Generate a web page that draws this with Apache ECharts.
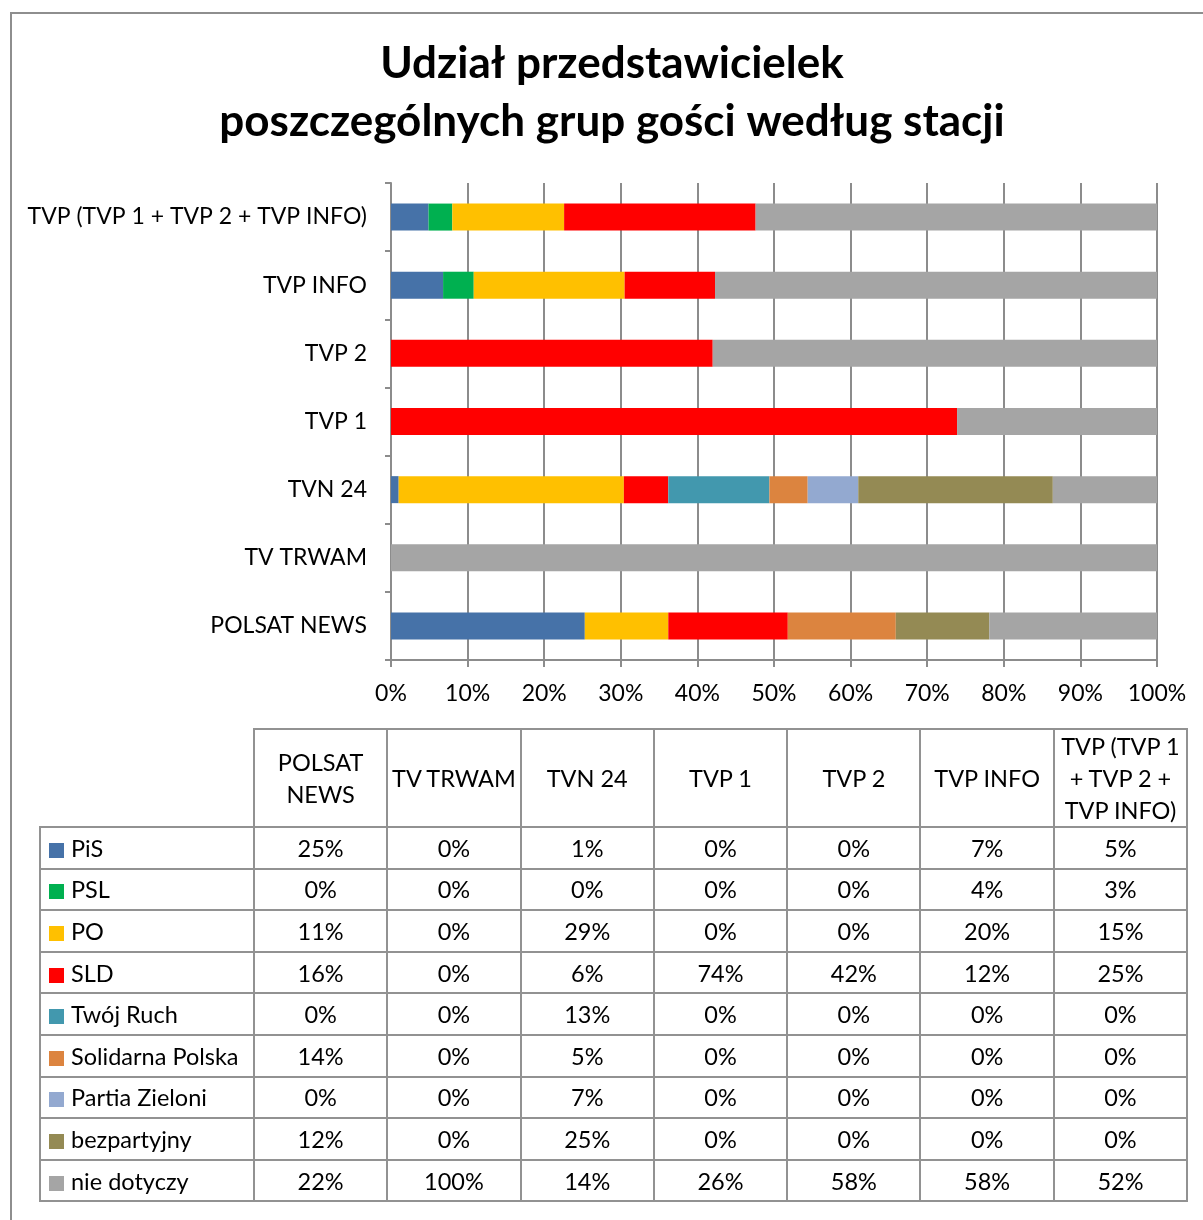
<!DOCTYPE html>
<html>
<head>
<meta charset="utf-8">
<script src="https://cdn.jsdelivr.net/npm/echarts@6/dist/echarts.min.js"></script>
<style>
    body { margin:0; background:#fff; font-family: Lato, sans-serif; }
    #frame { position:absolute; left:10px; top:12px; width:1200px; height:1220px; border-left:2px solid #8e8e8e; border-top:2px solid #8e8e8e; }
    #chart { position:absolute; left:0; top:0; width:1203px; height:1220px; }
    #tbl { position:absolute; left:39px; top:728px; width:1147px; table-layout:fixed; border-collapse:collapse; font-family:Lato, sans-serif; font-size:23.5px; color:#000; }
    #tbl td { border:2px solid #929292; text-align:center; padding:0; height:39.6px; white-space:nowrap; overflow:visible; }
    #tbl tr.head td { height:95px; line-height:32px; }
    #tbl td.blank { border:none; }
    #tbl td.lab { text-align:left; padding-left:8px; }
    #tbl .sw { display:inline-block; width:15px; height:15px; margin-right:7px; vertical-align:-1px; }
</style>
</head>
<body>
<div id="frame"></div>
<div id="chart"></div>
<table id="tbl"></table>

<script>
    // stacje (od dołu wykresu)
    var stations = ['POLSAT NEWS', 'TV TRWAM', 'TVN 24', 'TVP 1', 'TVP 2', 'TVP INFO', 'TVP (TVP 1 + TVP 2 + TVP INFO)'];
    var stationHead = ['POLSAT<br>NEWS', 'TV TRWAM', 'TVN 24', 'TVP 1', 'TVP 2', 'TVP INFO', 'TVP (TVP 1<br>+ TVP 2 +<br>TVP INFO)'];
    var groups = ['PiS', 'PSL', 'PO', 'SLD', 'Twój Ruch', 'Solidarna Polska', 'Partia Zieloni', 'bezpartyjny', 'nie dotyczy'];
    var colors = ['#4672a8', '#00b050', '#ffc000', '#ff0000', '#4298ae', '#dc843f', '#93a9d0', '#948a54', '#a5a5a5'];
    var xTicks = [0, 10, 20, 30, 40, 50, 60, 70, 80, 90, 100];

    // udział w % dla każdej stacji (kolejność jak stations)
    var pis       = [25.3, 0, 1.0, 0, 0, 6.8, 4.9];
    var psl       = [0, 0, 0, 0, 0, 4.0, 3.1];
    var po        = [10.9, 0, 29.4, 0, 0, 19.7, 14.6];
    var sld       = [15.6, 0, 5.8, 73.9, 42.0, 11.8, 25.0];
    var twojRuch  = [0, 0, 13.2, 0, 0, 0, 0];
    var solidarna = [14.1, 0, 5.0, 0, 0, 0, 0];
    var zieloni   = [0, 0, 6.6, 0, 0, 0, 0];
    var bezp      = [12.2, 0, 25.4, 0, 0, 0, 0];
    var nieDot    = [21.9, 100, 13.6, 26.1, 58.0, 57.7, 52.4];
    var values = [pis, psl, po, sld, twojRuch, solidarna, zieloni, bezp, nieDot];

    var chart = echarts.init(document.getElementById('chart'));
    var font = 'Lato, sans-serif';

    var series = [];
    for (var i = 0; i < groups.length; i++) {
        series.push({
            name: groups[i],
            type: 'bar',
            stack: 'all',
            barWidth: 27,
            itemStyle: { color: colors[i] },
            data: values[i]
        });
    }

    chart.setOption({
        animation: false,
        title: {
            text: 'Udział przedstawicielek\nposzczególnych grup gości według stacji',
            left: 607,
            textAlign: 'center',
            top: 30,
            textStyle: { fontFamily: font, fontSize: 44, fontWeight: 'bold', color: '#000', lineHeight: 58 }
        },
        grid: { left: 391, right: 46, top: 183, bottom: 560 },
        xAxis: {
            type: 'value',
            min: xTicks[0],
            max: xTicks[xTicks.length - 1],
            interval: 10,
            axisLine: { show: true, lineStyle: { color: '#8c8c8c', width: 2 } },
            axisTick: { show: true, length: 7, lineStyle: { color: '#8c8c8c', width: 2 } },
            splitLine: { show: true, lineStyle: { color: '#8c8c8c', width: 2 } },
            axisLabel: { formatter: '{value}%', fontFamily: font, fontSize: 23, color: '#000', margin: 22 }
        },
        yAxis: {
            type: 'category',
            data: stations,
            axisLine: { show: true, lineStyle: { color: '#8c8c8c', width: 2 } },
            axisTick: { show: true, length: 6, lineStyle: { color: '#8c8c8c', width: 2 } },
            axisLabel: { fontFamily: font, fontSize: 23, color: '#000', margin: 24 }
        },
        series: series
    });

    // tabela danych
    var html = '<colgroup><col style="width:214px">';
    for (var c = 0; c < stations.length; c++) html += '<col style="width:133.3px">';
    html += '</colgroup><tr class="head"><td class="blank"></td>';
    for (var j = 0; j < stationHead.length; j++) html += '<td>' + stationHead[j] + '</td>';
    html += '</tr>';
    for (var g = 0; g < groups.length; g++) {
        html += '<tr><td class="lab"><span class="sw" style="background:' + colors[g] + '"></span>' + groups[g] + '</td>';
        for (var s = 0; s < stations.length; s++) html += '<td>' + Math.round(values[g][s]) + '%</td>';
        html += '</tr>';
    }
    document.getElementById('tbl').innerHTML = html;
</script>
</body>
</html>
